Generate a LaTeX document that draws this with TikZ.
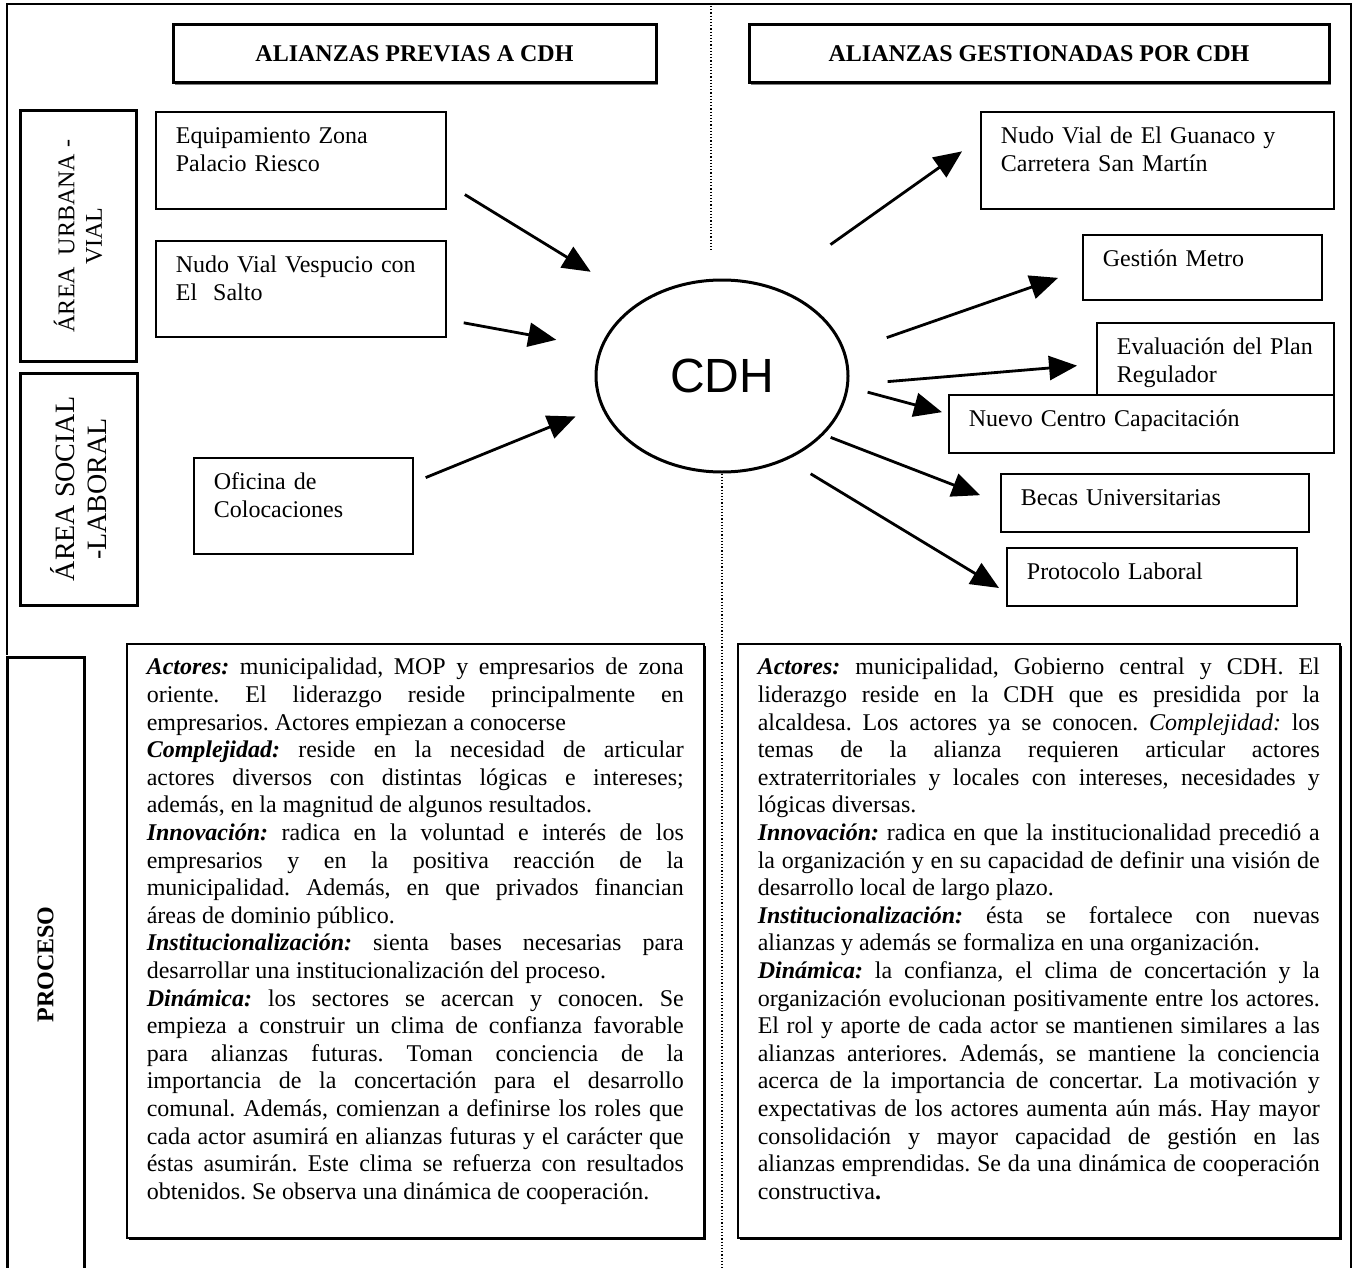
\documentclass[tikz,border=0pt]{standalone}
\usepackage{fontspec}
\setmainfont{Liberation Serif}
\setsansfont{Liberation Sans}
\usetikzlibrary{shapes, arrows.meta, calc, positioning, shadows}
\frenchspacing
\newcommand{\bodyfont}{\fontsize{12}{13.8}\selectfont}
\newcommand{\jline}[1]{\hbox to\hsize{\spaceskip=0.25em plus 1fil minus 0.12em\relax #1}}
\newcommand{\jlast}[1]{\hbox to\hsize{\spaceskip=0.25em minus 0.12em\relax #1\hfil}}
\tikzstyle{block} = [rectangle, draw, line width=0.9pt, fill=white, anchor=north west, inner xsep=10pt, inner ysep=0pt, text height=16pt, align=left]
\tikzstyle{title} = [rectangle, draw, line width=1.5pt, fill=white, inner sep=0pt, minimum height=29pt, font=\bodyfont\bfseries, drop shadow={shadow xshift=0.8pt, shadow yshift=-0.8pt, fill=black!50, opacity=1}]
\tikzstyle{area} = [rectangle, draw, line width=1.5pt, rotate=90, align=center, inner sep=0pt]
\tikzstyle{panel} = [rectangle, draw, line width=0.8pt, fill=white, anchor=north west, inner xsep=10pt, inner ysep=0pt, text height=15.5pt, text depth=281.5pt, drop shadow={shadow xshift=1pt, shadow yshift=-1pt, fill=black, opacity=1}]
\tikzstyle{line} = [draw, line width=1.4pt, -{Triangle[length=14pt, width=12pt]}]
\tikzstyle{divider} = [densely dotted, line width=0.6pt]

\begin{document}
\begin{tikzpicture}[x=0.5pt, y=-0.5pt, font=\bodyfont]
        \useasboundingbox (0,0) rectangle (1354,1268);
        \draw[line width=0.7pt] (7,655) -- (7,4) -- (1351,4) -- (1351,1280);
        \draw[divider] (711,6) -- (711,252);

        \node[title, minimum width=241.5pt] (10) at (414.5,54) {ALIANZAS PREVIAS A CDH};
        \node[title, minimum width=290pt] (11) at (1039,54) {ALIANZAS GESTIONADAS POR CDH};

        \node[area, minimum width=125pt, minimum height=58pt] (12) at (78,236) {ÁREA\ \ URBANA -\\VIAL};
        \node[area, minimum width=116pt, minimum height=58.5pt, font=\fontsize{14}{16.1}\selectfont] (13) at (78.5,489) {ÁREA SOCIAL\\-LABORAL};
        \node[area, minimum width=307.5pt, minimum height=38.5pt, font=\bodyfont\bfseries] (14) at (45.5,964.5) {PROCESO};

        \node[block, text width=125pt, text depth=32.5pt] (00) at (155,111) {Equipamiento Zona\\Palacio Riesco};
        \node[block, text width=125pt, text depth=32pt, below=15pt of 00] (01) {Nudo Vial Vespucio con\\El\ \ Salto};
        \node[block, text width=89.5pt, text depth=32pt] (02) at (193,457) {Oficina de\\Colocaciones};

        \node[ellipse, draw, line width=1.5pt, minimum width=126pt, minimum height=96pt, inner sep=0pt, font=\fontsize{24}{28}\selectfont\sffamily] (03) at (722,376) {CDH};
        \draw[divider] (03.south) -- ++(0,800);
        \path[line, shorten <=10.6pt, shorten >=28.6pt] (00.-9.2) -- (03.138.5);
        \path[line, shorten <=8.6pt, shorten >=22.2pt] (01.-12.8) -- (03.167);
        \path[line, shorten <=6.4pt, shorten >=13.6pt] (02.12.4) -- (03.194.1);

        \node[block, text width=156.5pt, text depth=32.5pt] (04) at (980,111) {Nudo Vial de El Guanaco y\\Carretera San Martín};
        \node[block, text width=99.5pt, text depth=16.5pt] (05) at (1082,234) {Gestión Metro};
        \node[block, text width=98.5pt, text depth=21pt] (06) at (1096,322) {Evaluación del Plan\\Regulador};
        \node[block, text width=172.5pt, text depth=13pt] (07) at (948,394) {Nuevo Centro Capacitación};
        \node[block, text width=134pt, text depth=13pt] (08) at (1000,473) {Becas Universitarias};
        \node[block, text width=125pt, text depth=13pt] (09) at (1006,547) {Protocolo Laboral};
        \path[line, shorten <=36pt, shorten >=11pt] (03.61.6) -- (04.173.8);
        \path[line, shorten <=21.8pt, shorten >=12.7pt] (03.11.6) -- (05.181.6);
        \path[line, shorten <=19.4pt, shorten >=9.5pt] (03.-4.3) -- (06.182.1);
        \path[line, shorten <=9.8pt, shorten >=3.1pt] (03.-5.6) -- (07.177.2);
        \path[line, shorten <=3.7pt, shorten >=10.7pt] (03.-30.2) -- (08.180);
        \path[line, shorten <=13.6pt, shorten >=4.1pt] (03.-52.5) -- (09.186);

        \node[panel, text width=268.5pt] (15) at (126,643) {%
            \jline{\textbf{\textit{Actores:}} municipalidad, MOP y empresarios de zona}
            \jline{oriente. El liderazgo reside principalmente en}
            \jlast{empresarios. Actores empiezan a conocerse}
            \jline{\textbf{\textit{Complejidad:}} reside en la necesidad de articular}
            \jline{actores diversos con distintas lógicas e intereses;}
            \jlast{además, en la magnitud de algunos resultados.}
            \jline{\textbf{\textit{Innovación:}} radica en la voluntad e interés de los}
            \jline{empresarios y en la positiva reacción de la}
            \jline{municipalidad. Además, en que privados financian}
            \jlast{áreas de dominio público.}
            \jline{\textbf{\textit{Institucionalización:}} sienta bases necesarias para}
            \jlast{desarrollar una institucionalización del proceso.}
            \jline{\textbf{\textit{Dinámica:}} los sectores se acercan y conocen. Se}
            \jline{empieza a construir un clima de confianza favorable}
            \jline{para alianzas futuras. Toman conciencia de la}
            \jline{importancia de la concertación para el desarrollo}
            \jline{comunal. Además, comienzan a definirse los roles que}
            \jline{cada actor asumirá en alianzas futuras y el carácter que}
            \jline{éstas asumirán. Este clima se refuerza con resultados}
            \jlast{obtenidos. Se observa una dinámica de cooperación.}};

        \node[panel, text width=281pt] (16) at (737,643) {%
            \jline{\textbf{\textit{Actores:}} municipalidad, Gobierno central y CDH. El}
            \jline{liderazgo reside en la CDH que es presidida por la}
            \jline{alcaldesa. Los actores ya se conocen. \textit{Complejidad:} los}
            \jline{temas de la alianza requieren articular actores}
            \jline{extraterritoriales y locales con intereses, necesidades y}
            \jlast{lógicas diversas.}
            \jline{\textbf{\textit{Innovación:}} radica en que la institucionalidad precedió a}
            \jline{la organización y en su capacidad de definir una visión de}
            \jlast{desarrollo local de largo plazo.}
            \jline{\textbf{\textit{Institucionalización:}} ésta se fortalece con nuevas}
            \jlast{alianzas y además se formaliza en una organización.}
            \jline{\textbf{\textit{Dinámica:}} la confianza, el clima de concertación y la}
            \jline{organización evolucionan positivamente entre los actores.}
            \jline{El rol y aporte de cada actor se mantienen similares a las}
            \jline{alianzas anteriores. Además, se mantiene la conciencia}
            \jline{acerca de la importancia de concertar. La motivación y}
            \jline{expectativas de los actores aumenta aún más. Hay mayor}
            \jline{consolidación y mayor capacidad de gestión en las}
            \jline{alianzas emprendidas. Se da una dinámica de cooperación}
            \jlast{constructiva\textbf{.}}};
    \end{tikzpicture}
\end{document}
